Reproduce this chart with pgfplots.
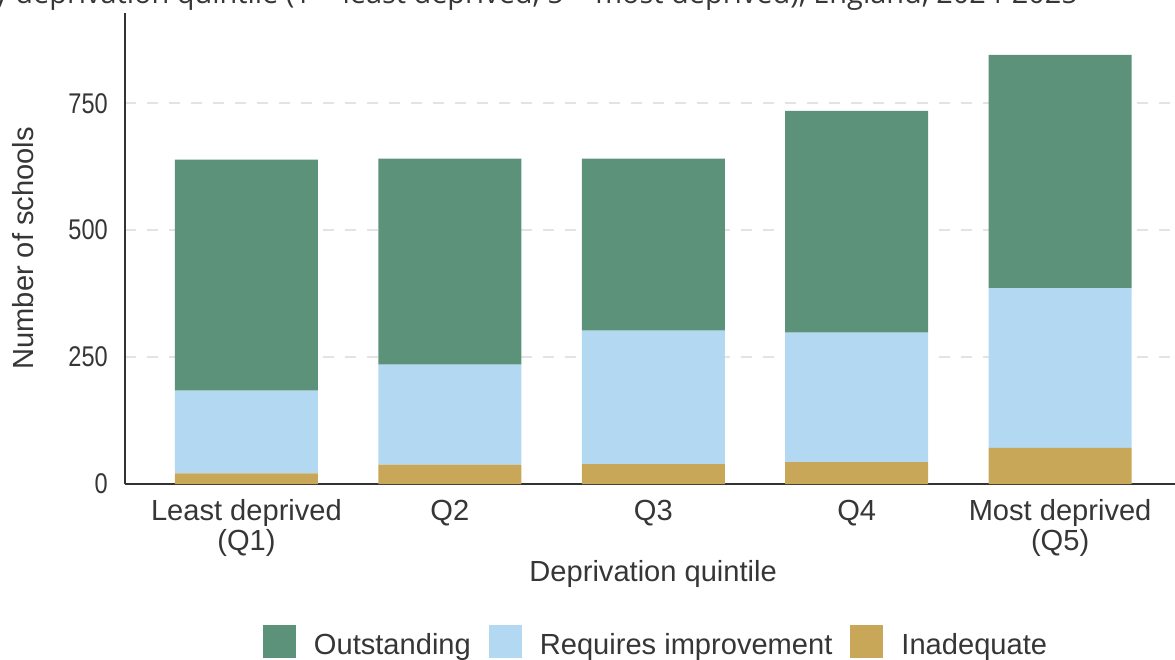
\documentclass[border=0pt]{standalone}
\usepackage{fontspec}
\setmainfont{Liberation Sans}
\newfontfamily\titlefont{Open Sans}
\usepackage{graphicx}
\usepackage{pgfplots}
\usepackage{pgfplotstable}
\pgfplotsset{compat=1.18}
\definecolor{outst}{HTML}{5C9279}
\definecolor{reqimp}{HTML}{B3D8F1}
\definecolor{inadq}{HTML}{C8A858}
\definecolor{axiscol}{HTML}{333333}
\definecolor{gridcol}{HTML}{E3E3E3}
\definecolor{textcol}{HTML}{363636}
\newcommand\bigfont{\fontsize{29.2}{30}\selectfont}
\pgfplotstableread{
x inad req out
0 21 163 455
1 38 197 406
2 39 263 339
3 43 255 437
4 71 315 459
}\datatable
\begin{document}
\begin{tikzpicture}
\begin{axis}[
  scale only axis,
  width=1050bp, height=471.5bp,
  xmin=-0.597, xmax=4.565,
  ymin=0, ymax=928.7,
  ybar stacked,
  bar width=143bp,
  axis x line*=bottom, axis y line*=left,
  x axis line style={draw=axiscol, line width=2.5bp},
  y axis line style={draw=axiscol, line width=2bp},
  major tick length=0pt,
  tick style={draw=none},
  xtick={0,1,2,3,4},
  xticklabels={{Least deprived\\(Q1)},Q2,Q3,Q4,{Most deprived\\(Q5)}},
  ytick={0,250,500,750},
  yticklabel={\scalebox{0.81}[0.98]{\pgfmathprintnumber{\tick}}},
  /pgf/number format/assume math mode=true,
  ticklabel style={font=\bigfont, text=textcol},
  xticklabel style={inner sep=0pt, anchor=north, yshift=-15.5bp, align=center},
  yticklabel style={inner sep=0pt, anchor=east, xshift=-17bp},
  ymajorgrids,
  major grid style={draw=gridcol, line width=2.5bp, dash pattern=on 11bp off 11bp},
  xlabel={Deprivation quintile},
  ylabel={Number of schools},
  every axis x label/.style={at={(axis description cs:0.503,-0.2076)}, anchor=base, font=\bigfont, text=textcol},
  every axis y label/.style={at={(axis description cs:-0.0873,0.5)}, anchor=base, rotate=90, font=\bigfont, text=textcol},
  legend columns=3,
  reverse legend,
  legend image code/.code={\fill[#1] (0bp,-13bp) rectangle (33bp,20bp);},
  legend style={draw=none, fill=none, inner sep=0pt, outer sep=0pt,
    at={(axis description cs:0.1314,-0.2987)}, anchor=north west,
    nodes={inner sep=0pt, font=\bigfont, text=textcol},
    /tikz/every odd column/.append style={column sep=18bp},
    /tikz/every even column/.append style={column sep=18bp}},
]
\addplot[fill=inadq, draw=none] table[x=x, y=inad] {\datatable};
\addlegendentry{Inadequate}
\addplot[fill=reqimp, draw=none] table[x=x, y=req] {\datatable};
\addlegendentry{Requires improvement}
\addplot[fill=outst, draw=none] table[x=x, y=out] {\datatable};
\addlegendentry{Outstanding}
\end{axis}
\node[anchor=base east, inner sep=0pt, font=\titlefont\fontsize{29}{31}\selectfont, text=textcol] at (953bp,480bp) {Pupils by deprivation quintile (1 = least deprived, 5 = most deprived), England, 2024-2025};
\pgfresetboundingbox
\useasboundingbox (-125bp,-176bp) rectangle (1050bp,484bp);
\end{tikzpicture}
\end{document}
